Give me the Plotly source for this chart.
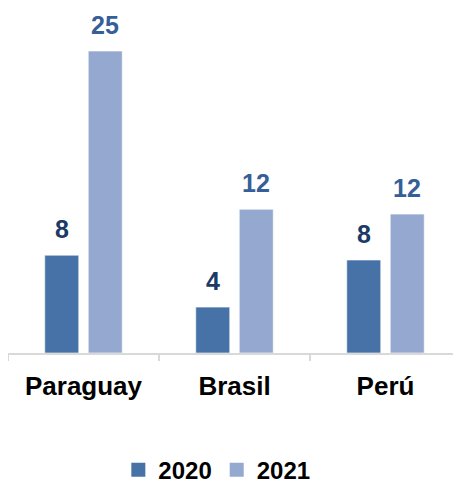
import plotly.graph_objects as go

categories = ["Paraguay", "Brasil", "Perú"]
series_names = ["2020", "2021"]
values_2020 = [8.1, 3.8, 7.7]
values_2021 = [25.0, 11.9, 11.5]
labels_2020 = ["8", "4", "8"]
labels_2021 = ["25", "12", "12"]

colors = ["#4672A7", "#95A9D0"]
label_colors = ["#1B3A66", "#365F98"]
FONT = "Liberation Sans, Arial, sans-serif"

fig = go.Figure()
for name, vals, col in zip(series_names, [values_2020, values_2021], colors):
    fig.add_trace(go.Bar(
        x=categories, y=vals, name=name, showlegend=False,
        marker=dict(color=col, line=dict(color="rgba(255,255,255,0.6)", width=1)),
    ))
# legend entries with larger square swatches
for name, col in zip(series_names, colors):
    fig.add_trace(go.Scatter(
        x=[None], y=[None], mode="markers", name="<b>%s</b>" % name,
        marker=dict(symbol="square", size=14, color=col),
    ))

annotations = []
for vals, labs, lc, shift in [(values_2020, labels_2020, label_colors[0], -21.75),
                              (values_2021, labels_2021, label_colors[1], 21.75)]:
    for c, v, t in zip(categories, vals, labs):
        annotations.append(dict(
            x=c, y=v, xref="x", yref="y", text="<b>%s</b>" % t,
            showarrow=False, yanchor="bottom", xshift=shift, yshift=10,
            font=dict(family=FONT, size=25, color=lc),
        ))

# page body has an 8px margin, so the figure is sized to fit the window
fig.update_layout(
    width=453, height=475,
    margin=dict(l=0, r=0, t=22, b=130, autoexpand=False),
    paper_bgcolor="white", plot_bgcolor="white",
    barmode="group", bargap=0.424, bargroupgap=0.218,
    showlegend=True,
    legend=dict(orientation="h", x=0.461, xanchor="center", y=0.027, yanchor="middle",
                yref="container", font=dict(family=FONT, size=24, color="#000000"),
                traceorder="normal"),
    annotations=annotations,
    font=dict(family=FONT),
)
fig.update_xaxes(
    showline=True, linecolor="#D9D9D9", linewidth=1.5, automargin=False,
    ticks="outside", tickson="boundaries", ticklen=6, tickcolor="#D9D9D9", tickwidth=1.5,
    tickfont=dict(family=FONT, size=26, color="#000000"),
    ticklabelstandoff=9,
    tickprefix="<b>", ticksuffix="</b>",
    showgrid=False,
)
fig.update_yaxes(range=[0, 26.74], visible=False, showgrid=False)

fig.write_html("out.html")
